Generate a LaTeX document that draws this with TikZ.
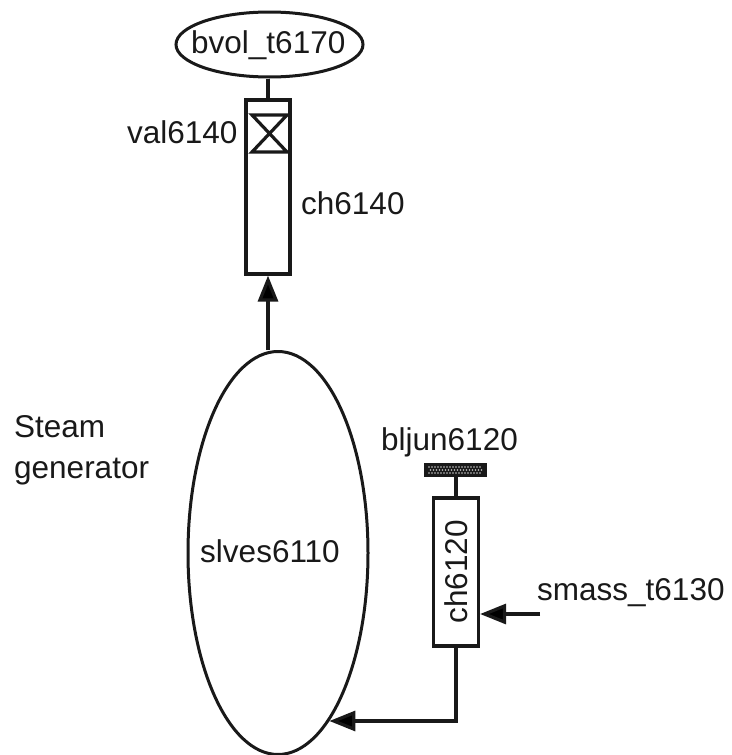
\documentclass[tikz,border=0pt]{standalone}
\usepackage{fontspec}
\setmainfont{Liberation Sans}
\usetikzlibrary{shapes.geometric,arrows.meta}
\definecolor{ink}{gray}{0.1}
\tikzset{
  x=1pt,y=-1pt,
  every node/.style={text=ink,font=\fontsize{31.5}{36}\selectfont},
  vessel/.style={draw=ink,ellipse,line width=3pt,inner sep=0pt,fill=white},
  pipebox/.style={draw=ink,rectangle,line width=3.2pt,inner sep=0pt,fill=white},
  label/.style={anchor=base west,inner sep=0pt},
  conn/.style={draw=ink,line width=3.2pt},
  flow/.style={conn,-{Triangle[length=26pt,width=20pt,fill=black]}}
}
\begin{document}
\begin{tikzpicture}
\useasboundingbox (0,0) rectangle (731,755);
\fill[white] (0,0) rectangle (731,755);
% nodes
\node[vessel,minimum width=187pt,minimum height=65pt] (bvol) at (269.5,44.5) {};
\node[label] (bvoltext) at (191,53) {bvol\_t6170};
\node[pipebox,minimum width=44pt,minimum height=174pt] (ch6140) at (268,187) {};
\node[vessel,minimum width=180pt,minimum height=403pt] (slves) at (278,553) {};
\node[anchor=center,inner sep=0pt] (slvestext) at (270,551) {slves6110};
\node[pipebox,minimum width=45pt,minimum height=148pt] (ch6120) at (456,572) {};
\node[rotate=90,inner sep=0pt] (ch6120text) at (456,572) {ch6120};
\node[draw=ink,fill=ink,line width=1pt,minimum width=62pt,minimum height=13pt,inner sep=0pt] (bljun) at (455.5,470) {};
\foreach \r in {0,1,2}{
  \foreach \c in {0,...,17}{
    \fill[gray!45] ({429+\c*3+mod(\r,2)*1.5},{467+\r*3}) circle (0.8pt);
  }
}
\node[label] (val) at (127,143) {val6140};
\node[label] (chlabel) at (301,214) {ch6140};
\node[label] (bljunlabel) at (381,450) {bljun6120};
\node[label] (smass) at (537,600) {smass\_t6130};
\node[label] (steam) at (14,437) {Steam};
\node[label] (generator) at (14,478) {generator};
% valve
\coordinate (v1) at (252,115);
\coordinate (v2) at (287,115);
\coordinate (v3) at (252,152);
\coordinate (v4) at (287,152);
\draw[conn,line join=miter] (v1) -- (v2) -- (v3) -- (v4) -- cycle;
% connectors
\draw[conn] (ch6140.north) -- (ch6140.north |- bvol.south);
\draw[conn] (ch6120.north) -- (ch6120.north |- bljun.south);
\draw[flow] (ch6140.south |- slves.north) -- (ch6140.south);
\coordinate (smassend) at (540,614);
\draw[flow] (smassend) -- (ch6120.east |- smassend);
\draw[flow] (ch6120.south) |- (slves.-73);
\end{tikzpicture}
\end{document}
